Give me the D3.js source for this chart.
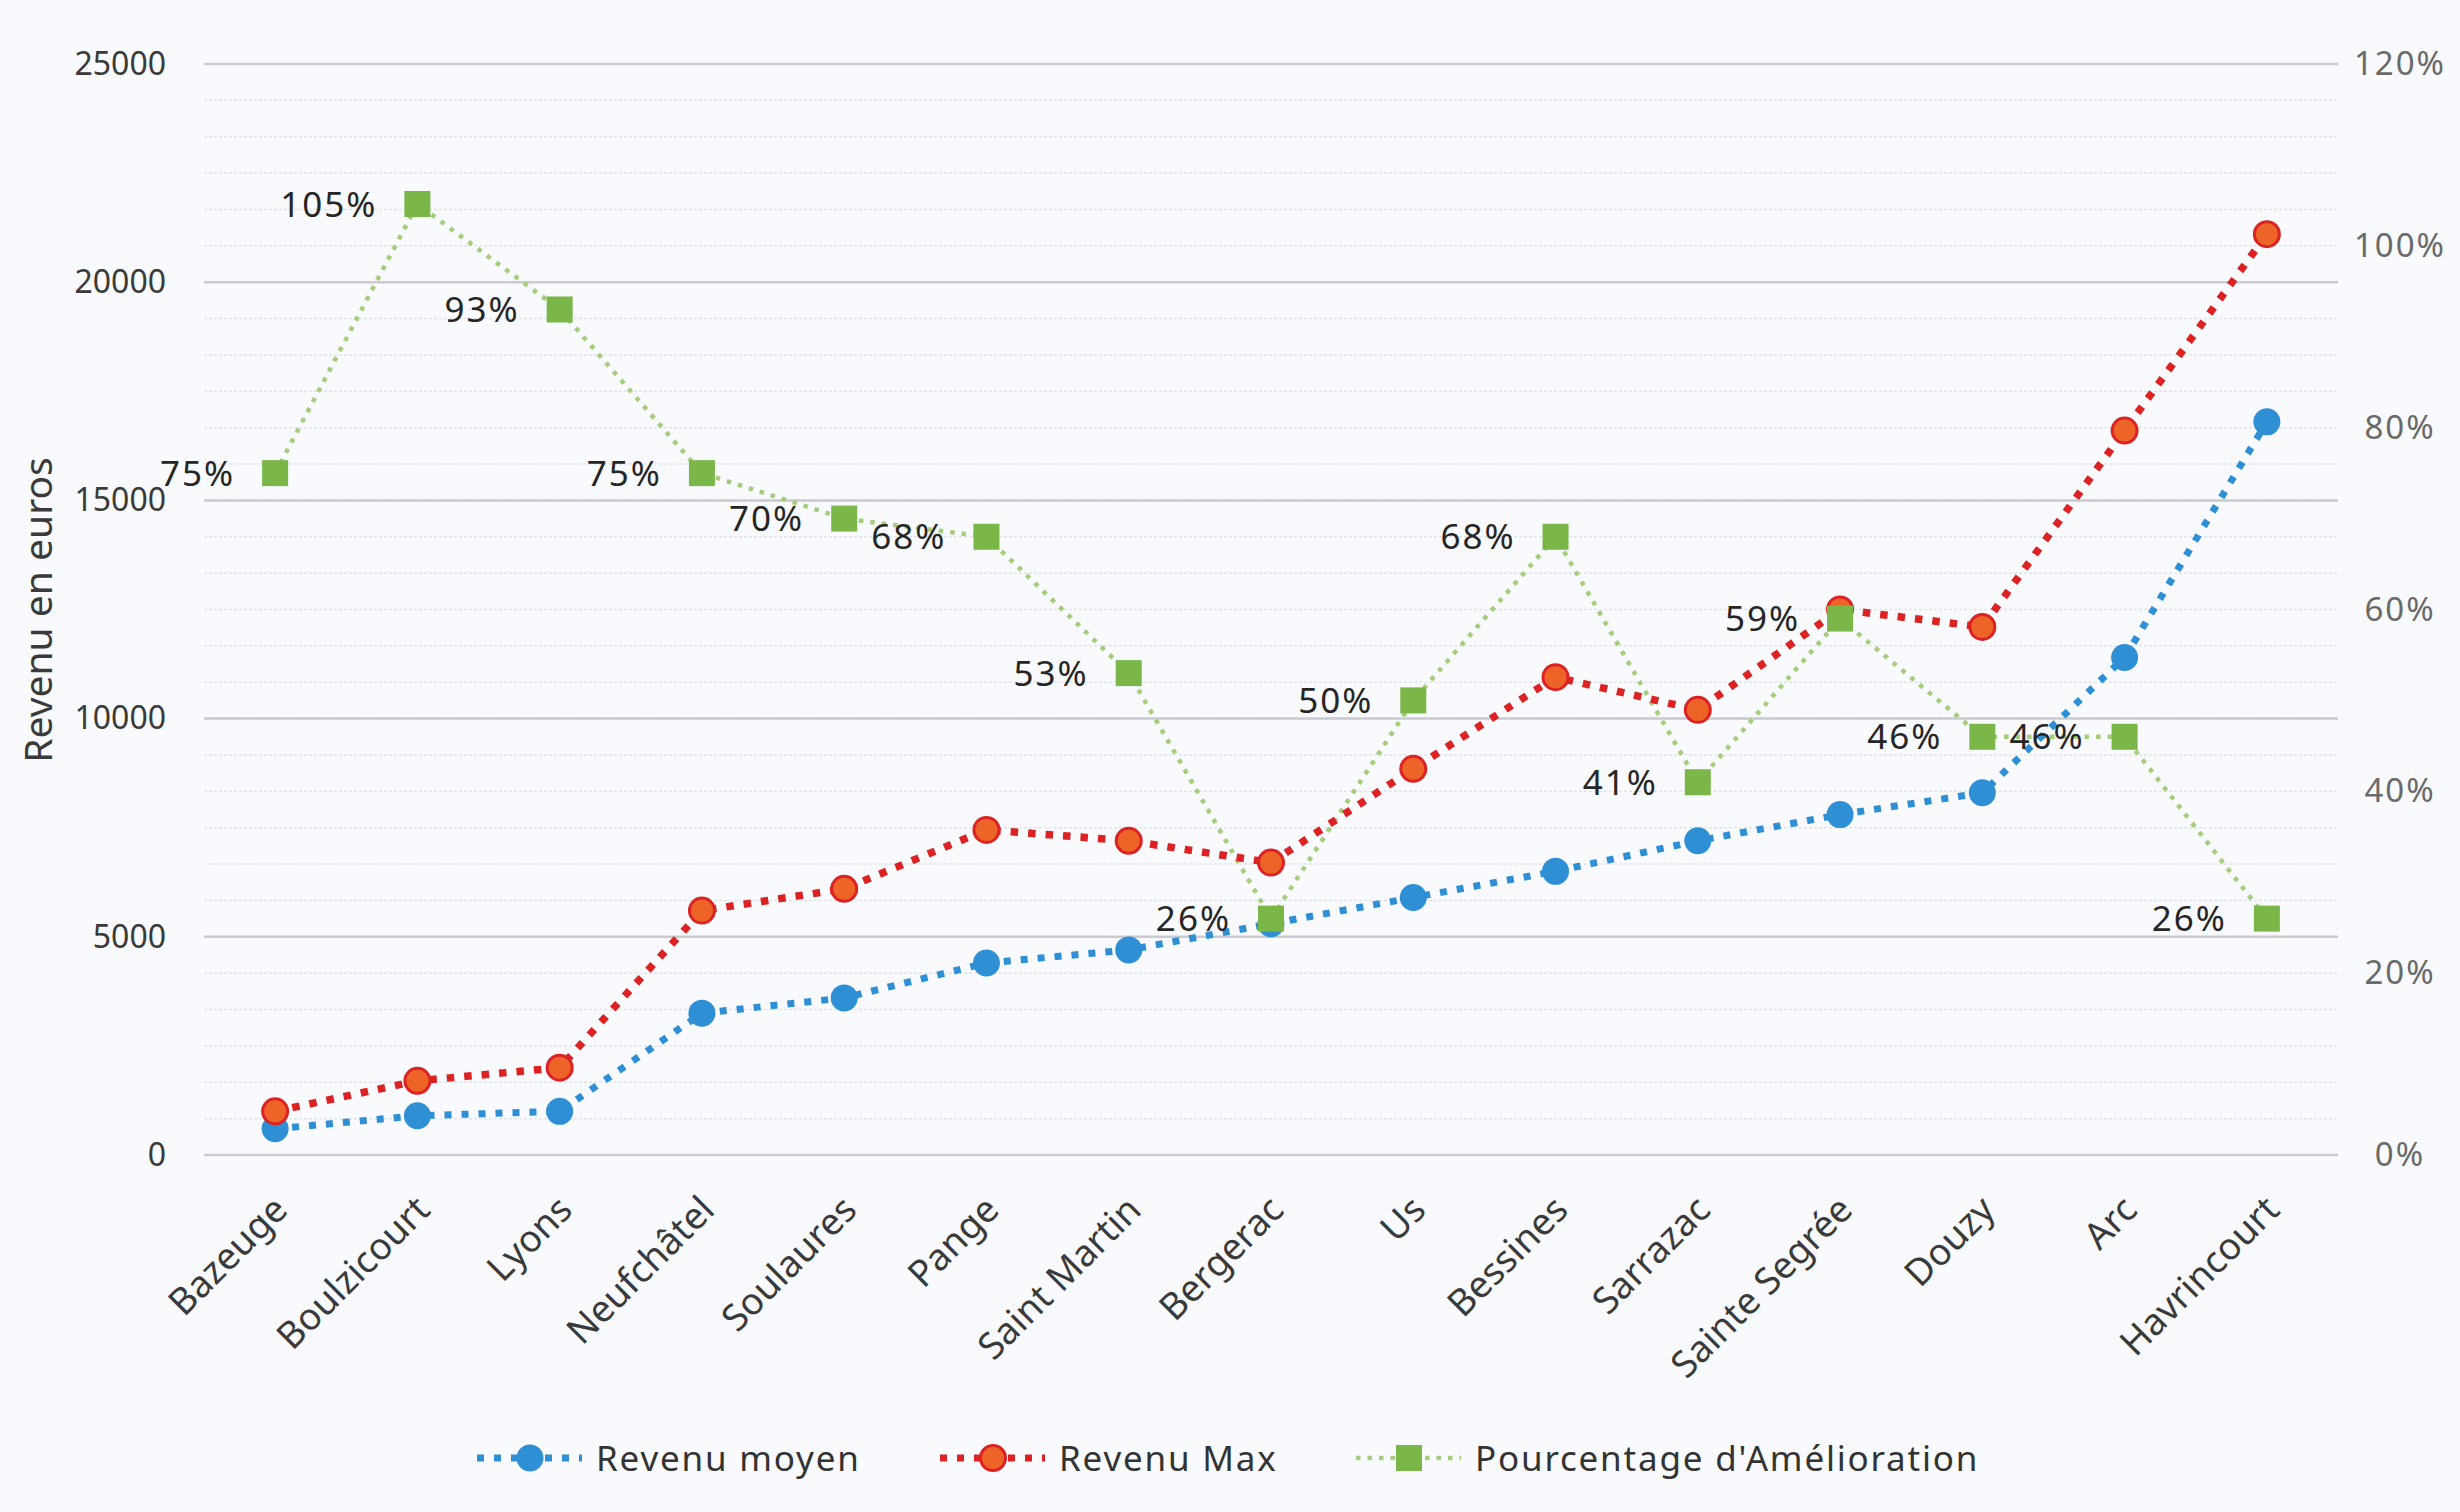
<!DOCTYPE html>
<html>
<head>
<meta charset="utf-8">
<script src="https://cdn.jsdelivr.net/npm/d3@7"></script>
<style>
  html, body { margin: 0; padding: 0; background: #f8fafd; }
  svg { display: block; font-family: "Noto Sans", "Open Sans", sans-serif; }
</style>
</head>
<body>
<svg id="chart"></svg>
<script>
const width = 2460;
const height = 1512;

// data
const villes = ["Bazeuge", "Boulzicourt", "Lyons", "Neufchâtel", "Soulaures", "Pange",
    "Saint Martin", "Bergerac", "Us", "Bessines", "Sarrazac", "Sainte Segrée",
    "Douzy", "Arc", "Havrincourt"];
const revenuMoyen = [600, 900, 1000, 3250, 3600, 4400, 4700, 5300, 5900, 6500, 7200, 7800, 8300, 11400, 16800];
const revenuMax = [1000, 1700, 2000, 5600, 6100, 7450, 7200, 6700, 8850, 10950, 10200, 12500, 12100, 16600, 21100];
const amelioration = [0.75, 1.046, 0.93, 0.75, 0.70, 0.68, 0.53, 0.26, 0.50, 0.68, 0.41, 0.59, 0.46, 0.46, 0.26];
const leftTicks = [0, 5000, 10000, 15000, 20000, 25000];
const rightTicks = [0, 0.2, 0.4, 0.6, 0.8, 1.0, 1.2];

const blue = "#2f8fd4";
const red = "#dc2222";
const redFill = "#ee6428";
const green = "#7ab648";
const greenLine = "#a6cd7c";

const svg = d3.select("#chart")
    .attr("width", width)
    .attr("height", height);

const plot = { left: 204, right: 2338, top: 64, bottom: 1155 };

const x = d3.scalePoint()
    .domain(villes)
    .range([plot.left, plot.right])
    .padding(0.5);
const yLeft = d3.scaleLinear().domain([0, 25000]).range([plot.bottom, plot.top]);
const yRight = d3.scaleLinear().domain([0, 1.2]).range([plot.bottom, plot.top]);

// minor gridlines (every 4% on the right axis)
svg.append("g")
    .selectAll("line")
    .data(d3.range(0, 1.2001, 0.04))
    .enter().append("line")
    .attr("x1", plot.left).attr("x2", plot.right)
    .attr("y1", d => yRight(d)).attr("y2", d => yRight(d))
    .attr("stroke", "#dfe3ea")
    .attr("stroke-width", 1.5)
    .attr("stroke-dasharray", "3 2");

// major gridlines
svg.append("g")
    .selectAll("line")
    .data(leftTicks)
    .enter().append("line")
    .attr("x1", plot.left).attr("x2", plot.right)
    .attr("y1", d => yLeft(d)).attr("y2", d => yLeft(d))
    .attr("stroke", "#c9cbd1")
    .attr("stroke-width", 2.5);

// left axis
const gLeft = svg.append("g")
    .attr("transform", "translate(166,0)")
    .call(d3.axisLeft(yLeft).tickValues(leftTicks).tickSize(0).tickPadding(0).tickFormat(d3.format("d")));
gLeft.select(".domain").remove();
gLeft.selectAll("text")
    .attr("font-size", 32)
    .attr("font-family", "Noto Sans")
    .attr("fill", "#3a3a3a");

// right axis
const gRight = svg.append("g")
    .attr("transform", "translate(2400,0)")
    .call(d3.axisRight(yRight).tickValues(rightTicks).tickSize(0).tickPadding(0).tickFormat(d3.format(".0%")));
gRight.select(".domain").remove();
gRight.selectAll("text")
    .attr("text-anchor", "middle")
    .attr("font-size", 33)
    .attr("letter-spacing", 2)
    .attr("font-family", "Noto Sans")
    .attr("fill", "#6a6a6a");

// x axis labels
const gX = svg.append("g")
    .attr("transform", `translate(0,${plot.bottom})`)
    .call(d3.axisBottom(x).tickSize(0).tickPadding(0));
gX.select(".domain").remove();
gX.selectAll("text")
    .attr("font-size", 37)
    .attr("font-family", "Noto Sans")
    .attr("fill", "#3a3a3a")
    .attr("text-anchor", "end")
    .attr("dy", null)
    .attr("y", null)
    .attr("transform", "translate(14,57) rotate(-45)");

// axis title
svg.append("text")
    .attr("transform", "translate(52,610) rotate(-90)")
    .attr("text-anchor", "middle")
    .attr("font-size", 39)
    .attr("fill", "#3a3a3a")
    .text("Revenu en euros");

// lines
const lineLeft = vals => d3.line()
    .x((d, i) => x(villes[i]))
    .y(d => yLeft(d))(vals);

svg.append("path")
    .attr("d", d3.line().x((d, i) => x(villes[i])).y(d => yRight(d))(amelioration))
    .attr("fill", "none")
    .attr("stroke", greenLine)
    .attr("stroke-width", 4.5)
    .attr("stroke-dasharray", "4.5 7");

svg.append("path")
    .attr("d", lineLeft(revenuMoyen))
    .attr("fill", "none")
    .attr("stroke", blue)
    .attr("stroke-width", 7)
    .attr("stroke-dasharray", "7 10");

svg.append("path")
    .attr("d", lineLeft(revenuMax))
    .attr("fill", "none")
    .attr("stroke", red)
    .attr("stroke-width", 7.5)
    .attr("stroke-dasharray", "7.5 10");

// markers
svg.append("g").selectAll("circle")
    .data(revenuMoyen)
    .enter().append("circle")
    .attr("cx", (d, i) => x(villes[i]))
    .attr("cy", d => yLeft(d))
    .attr("r", 13.5)
    .attr("fill", blue);

svg.append("g").selectAll("circle")
    .data(revenuMax)
    .enter().append("circle")
    .attr("cx", (d, i) => x(villes[i]))
    .attr("cy", d => yLeft(d))
    .attr("r", 12.5)
    .attr("fill", redFill)
    .attr("stroke", red)
    .attr("stroke-width", 3);

svg.append("g").selectAll("rect")
    .data(amelioration)
    .enter().append("rect")
    .attr("x", (d, i) => x(villes[i]) - 13)
    .attr("y", d => yRight(d) - 13)
    .attr("width", 26)
    .attr("height", 26)
    .attr("fill", green);

// data labels
svg.append("g").selectAll("text")
    .data(amelioration)
    .enter().append("text")
    .attr("x", (d, i) => x(villes[i]) - 40)
    .attr("y", d => yRight(d))
    .attr("dy", "0.36em")
    .attr("text-anchor", "end")
    .attr("font-size", 35)
    .attr("letter-spacing", 2)
    .attr("fill", "#262626")
    .text(d => d3.format(".0%")(d));

// legend
const legendY = 1458;
const legend = svg.append("g");

function legendItem(x0, text, kind) {
    const g = legend.append("g").attr("transform", `translate(${x0},${legendY})`);
    const col = kind === "blue" ? blue : kind === "red" ? red : greenLine;
    g.append("line")
        .attr("x1", 0).attr("x2", 105)
        .attr("stroke", col)
        .attr("stroke-width", kind === "green" ? 4.5 : 7)
        .attr("stroke-dasharray", kind === "green" ? "4.5 7" : "7 10");
    if (kind === "blue") {
        g.append("circle").attr("cx", 53).attr("r", 13.5).attr("fill", blue);
    } else if (kind === "red") {
        g.append("circle").attr("cx", 53).attr("r", 12.5).attr("fill", redFill)
            .attr("stroke", red).attr("stroke-width", 3);
    } else {
        g.append("rect").attr("x", 40).attr("y", -13).attr("width", 26).attr("height", 26).attr("fill", green);
    }
    g.append("text")
        .attr("x", 119)
        .attr("dy", "0.36em")
        .attr("font-size", 35)
        .attr("letter-spacing", 1.8)
        .attr("fill", "#333")
        .text(text);
}

legendItem(477, "Revenu moyen", "blue");
legendItem(940, "Revenu Max", "red");
legendItem(1356, "Pourcentage d'Amélioration", "green");
</script>
</body>
</html>
